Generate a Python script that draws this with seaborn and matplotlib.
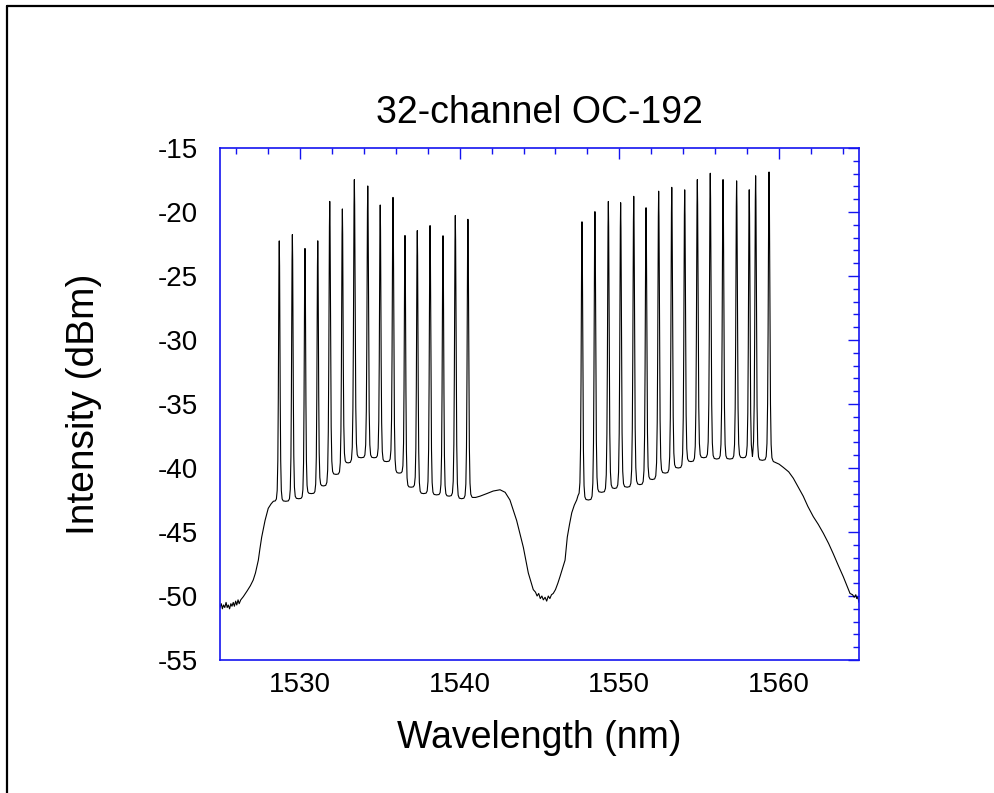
import numpy as np
import pandas as pd
import seaborn as sns
import matplotlib.pyplot as plt
from matplotlib.lines import Line2D
from matplotlib.ticker import MultipleLocator

# channel centres (nm) and peak levels (dBm)
band1_nm = [1528.71, 1529.53, 1530.32, 1531.12, 1531.87, 1532.66, 1533.41, 1534.25,
            1535.03, 1535.83, 1536.58, 1537.35, 1538.15, 1538.96, 1539.73, 1540.52]
band1_peak = [-22.3, -21.8, -22.9, -22.3, -19.2, -19.8, -17.5, -18.0,
              -19.5, -18.9, -21.9, -21.5, -21.1, -21.9, -20.3, -20.6]
# floor level left of first channel, between channels, right of last channel
band1_valley = [-42.6, -42.6, -42.4, -42.0, -41.4, -40.5, -39.6, -39.2, -39.2,
                -39.5, -40.4, -41.5, -42.0, -42.1, -42.2, -42.4, -42.3]

band2_nm = [1547.66, 1548.47, 1549.31, 1550.08, 1550.90, 1551.67, 1552.46, 1553.28,
            1554.09, 1554.88, 1555.69, 1556.49, 1557.34, 1558.13, 1558.53, 1559.37]
band2_peak = [-20.8, -20.0, -19.2, -19.3, -18.8, -19.7, -18.4, -18.1,
              -18.3, -17.5, -17.0, -17.5, -17.6, -18.3, -17.2, -16.9]
band2_valley = [-42.2, -42.5, -41.9, -41.6, -41.5, -41.3, -40.9, -40.4, -40.0,
                -39.5, -39.2, -39.3, -39.3, -39.2, -39.1, -39.4, -39.5]

# amplifier background outside the channel bands
left_nm = [1525.00, 1525.08, 1525.15, 1525.22, 1525.30, 1525.38, 1525.45, 1525.52,
           1525.60, 1525.68, 1525.75, 1525.83, 1525.90, 1525.98, 1526.05, 1526.13,
           1526.20, 1526.30, 1526.46, 1526.70, 1526.90, 1527.08, 1527.22, 1527.40,
           1527.50, 1527.61, 1527.82, 1528.02, 1528.20, 1528.34]
left_db = [-50.9, -50.6, -51.0, -50.7, -50.9, -50.5, -50.9, -50.7,
           -51.0, -50.6, -50.8, -50.5, -50.8, -50.4, -50.7, -50.3,
           -50.6, -50.3, -50.05, -49.6, -49.2, -48.75, -48.2, -47.2,
           -46.3, -45.4, -44.1, -43.15, -42.8, -42.6]
mid_nm = [1540.80, 1541.00, 1541.28, 1541.70, 1542.10, 1542.53, 1542.85, 1543.15,
          1543.57, 1543.99, 1544.30, 1544.61, 1544.75, 1544.85, 1544.95, 1545.05,
          1545.15, 1545.24, 1545.35, 1545.45, 1545.55, 1545.65, 1545.75, 1545.86,
          1546.00, 1546.15, 1546.28, 1546.45, 1546.60, 1546.74, 1546.88, 1547.02,
          1547.18, 1547.33]
mid_db = [-42.3, -42.3, -42.2, -42.0, -41.8, -41.7, -41.9, -42.5,
          -44.1, -46.2, -48.2, -49.5, -49.7, -50.0, -49.8, -50.2,
          -50.0, -50.3, -50.1, -50.4, -50.0, -50.2, -49.9, -49.8,
          -49.5, -49.0, -48.5, -47.8, -47.2, -45.4, -44.4, -43.5,
          -42.9, -42.5]
right_nm = [1559.65, 1560.00, 1560.26, 1560.60, 1560.89, 1561.20, 1561.51, 1561.80,
            1562.14, 1562.45, 1562.77, 1563.10, 1563.39, 1563.70, 1564.02, 1564.25,
            1564.44, 1564.60, 1564.70, 1564.80, 1564.86, 1564.93, 1565.00]
right_db = [-39.5, -39.7, -39.95, -40.3, -40.8, -41.5, -42.2, -43.0,
            -43.8, -44.4, -45.1, -45.9, -46.7, -47.6, -48.5, -49.2,
            -49.8, -49.9, -50.1, -49.9, -50.2, -50.1, -50.5]

# measured line shape of one channel: offset from centre (nm), level below top (dB)
shape_nm = [0.0, 0.02, 0.04, 0.06, 0.09, 0.13, 0.18, 0.25]
shape_db = [0.0, -2.0, -7.0, -13.0, -20.0, -27.0, -34.0, -42.0]


def db_add(a, b):
    return 10 * np.log10(10 ** (a / 10) + 10 ** (b / 10))


def band_trace(centres, peaks, valleys):
    xs, ys = [], []
    n = len(centres)
    for i in range(n):
        c, p = centres[i], peaks[i]
        gap_l = (c - centres[i - 1]) / 2 if i > 0 else 1.0
        gap_r = (centres[i + 1] - c) / 2 if i < n - 1 else 1.0
        for off, d in zip(shape_nm[::-1], shape_db[::-1]):
            if off < gap_l:
                xs.append(c - off)
                ys.append(db_add(valleys[i], p + d))
        for off, d in zip(shape_nm[1:], shape_db[1:]):
            if off < gap_r:
                xs.append(c + off)
                ys.append(db_add(valleys[i + 1], p + d))
        if i < n - 1:
            xs.append(c + gap_r)
            ys.append(valleys[i + 1])
    return xs, ys


b1x, b1y = band_trace(band1_nm, band1_peak, band1_valley)
b2x, b2y = band_trace(band2_nm, band2_peak, band2_valley)

df = pd.DataFrame({
    'wavelength': left_nm + b1x + mid_nm + b2x + right_nm,
    'intensity': left_db + b1y + mid_db + b2y + right_db,
})

sns.set_theme(style="white")
plt.rcParams['font.family'] = ['Liberation Sans', 'DejaVu Sans']
plt.rcParams['axes.unicode_minus'] = False
plt.rcParams['text.color'] = 'black'
plt.rcParams['axes.labelcolor'] = 'black'

blue = '#1414f0'
fig = plt.figure(figsize=(9.95, 7.93), dpi=100)
ax = fig.add_axes([0.2211, 0.1677, 0.6422, 0.6457])

sns.lineplot(data=df, x='wavelength', y='intensity', ax=ax, sort=False,
             estimator=None, color='black', linewidth=0.8)

ax.set_xlim(1525, 1565)
ax.set_ylim(-55, -15)
ax.xaxis.set_major_locator(MultipleLocator(10))
ax.xaxis.set_minor_locator(MultipleLocator(2))
ax.yaxis.set_major_locator(MultipleLocator(5))
ax.yaxis.set_minor_locator(MultipleLocator(1))

for sp in ax.spines.values():
    sp.set_visible(True)
    sp.set_color(blue)
    sp.set_linewidth(1.2)

ax.tick_params(which='both', direction='in', top=True, right=True,
               color=blue, width=1, labelcolor='black', labelsize=20)
ax.tick_params(which='major', length=8)
ax.tick_params(which='minor', length=4.5)
ax.tick_params(axis='x', which='major', pad=8.5)
ax.tick_params(axis='y', which='major', pad=16)

ax.set_title('32-channel OC-192', fontsize=27, pad=18, color='black')
ax.set_xlabel('Wavelength (nm)', fontsize=27, labelpad=16)
ax.set_ylabel('Intensity (dBm)', fontsize=28, labelpad=40)

# outer frame (only left and top edges fall inside the picture)
fig.add_artist(Line2D([7 / 995, 7 / 995], [0, 1 - 6 / 793], transform=fig.transFigure,
                      color='black', linewidth=1.6))
fig.add_artist(Line2D([7 / 995, 1], [1 - 6 / 793, 1 - 6 / 793], transform=fig.transFigure,
                      color='black', linewidth=1.6))

fig.savefig('out.png', dpi=100)
